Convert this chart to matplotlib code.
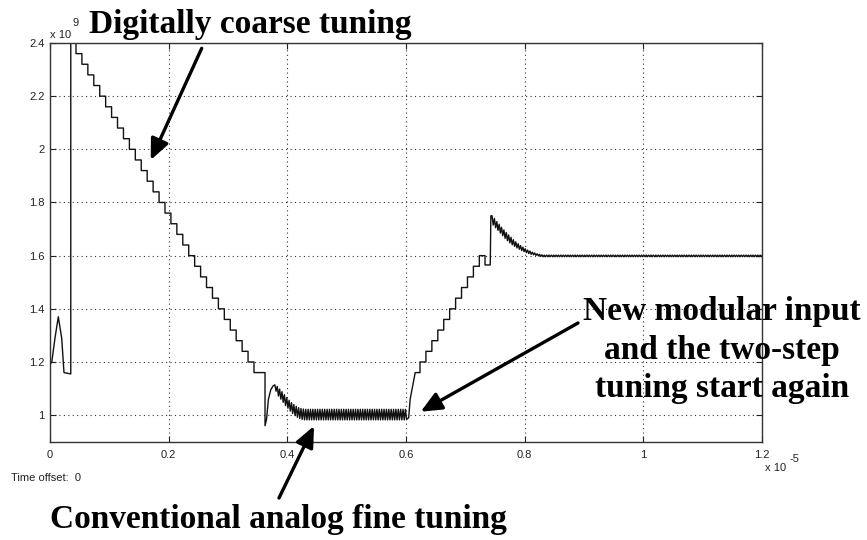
import matplotlib
matplotlib.use("Agg")
import matplotlib.pyplot as plt
from matplotlib.patches import FancyArrowPatch
from matplotlib.ticker import FixedLocator, FixedFormatter

# ---------------- data (time in units of 1e-5 s, value in units of 1e9) -------------
x_ticks = [0, 0.2, 0.4, 0.6, 0.8, 1.0, 1.2]
x_tick_labels = ["0", "0.2", "0.4", "0.6", "0.8", "1", "1.2"]
y_ticks = [1.0, 1.2, 1.4, 1.6, 1.8, 2.0, 2.2, 2.4]
y_tick_labels = ["1", "1.2", "1.4", "1.6", "1.8", "2", "2.2", "2.4"]

# initial transient before coarse tuning starts
init_t = [0.0, 0.003, 0.0084, 0.014, 0.0197, 0.0236, 0.035, 0.035, 0.0438]
init_v = [1.19, 1.20, 1.29, 1.37, 1.29, 1.16, 1.155, 2.50, 2.50]

# digitally coarse tuning: descending staircase (one level per clock)
clock = 0.01
desc_start = 0.0438
desc_end = 0.3624
desc_levels = [2.36, 2.32, 2.28, 2.24, 2.20, 2.16, 2.12, 2.08, 2.04, 2.00,
               1.96, 1.92, 1.88, 1.84, 1.80, 1.76, 1.72, 1.68, 1.64, 1.60,
               1.56, 1.52, 1.48, 1.44, 1.40, 1.36, 1.32, 1.28, 1.24, 1.20, 1.16]

# switch to analog fine tuning: drop and overshoot
trans_t = [0.3624, 0.3650, 0.3680, 0.3720, 0.3760, 0.3790]
trans_v = [0.960, 0.985, 1.058, 1.095, 1.110, 1.114]

# analog fine tuning around 1.0e9 (sampled every half period)
half_period = 0.002
fine1_start = 0.381
fine1_v = ([1.090, 1.108, 1.072, 1.098, 1.060, 1.088, 1.048, 1.077, 1.036, 1.066,
            1.026, 1.056, 1.015, 1.047, 1.006, 1.040, 0.998, 1.033, 0.992, 1.028,
            0.987, 1.025, 0.984, 1.023, 0.982, 1.022]
           + [0.982, 1.022] * 42 + [0.984])

# new modular input: fast rise, then ascending staircase
rise_t = [0.6045, 0.607, 0.6155]
rise_v = [0.990, 1.060, 1.160]
asc_first_edge = 0.6236
asc_end = 0.7332
asc_levels = [1.16, 1.20, 1.24, 1.28, 1.32, 1.36, 1.40, 1.44, 1.48, 1.52, 1.56, 1.60]
jump_t = [0.7332, 0.7420, 0.7430, 0.7450]
jump_v = [1.565, 1.565, 1.750, 1.750]

# second analog fine tuning settling to 1.6e9
fine2_start = 0.747
fine2_v = ([1.715, 1.740, 1.705, 1.728, 1.695, 1.718, 1.685, 1.707, 1.675, 1.697,
            1.665, 1.687, 1.656, 1.678, 1.648, 1.669, 1.641, 1.660, 1.635, 1.652,
            1.629, 1.645, 1.624, 1.638, 1.619, 1.632, 1.615, 1.626, 1.611, 1.621,
            1.608, 1.617, 1.605, 1.613, 1.603, 1.610, 1.601, 1.607, 1.599, 1.605,
            1.597, 1.603]
           + [1.596, 1.602] * 93)

# ---------------- build the trace ----------------
t, v = [], []
t += init_t; v += init_v
edges = [desc_start + k * clock for k in range(len(desc_levels))] + [desc_end]
for k, lvl in enumerate(desc_levels):
    t += [edges[k], edges[k + 1]]
    v += [lvl, lvl]
t += trans_t; v += trans_v
for i, val in enumerate(fine1_v):
    t.append(fine1_start + i * half_period); v.append(val)
t += rise_t; v += rise_v
a_edges = [rise_t[-1]] + [asc_first_edge + k * clock for k in range(len(asc_levels) - 1)] + [asc_end]
for k, lvl in enumerate(asc_levels):
    t += [a_edges[k], a_edges[k + 1]]
    v += [lvl, lvl]
t += jump_t; v += jump_v
for i, val in enumerate(fine2_v):
    t.append(fine2_start + i * half_period); v.append(val)

# ---------------- figure ----------------
W, H = 867, 540
fig = plt.figure(figsize=(W / 100, H / 100), dpi=100)
fig.patch.set_facecolor("white")

def px(x, y):
    return (x / W, 1 - y / H)

ax_l, ax_r, ax_t, ax_b = 50, 762, 43, 441.7
ax = fig.add_axes([ax_l / W, 1 - ax_b / H, (ax_r - ax_l) / W, (ax_b - ax_t) / H])
ax.plot(t, v, color="#111111", lw=1.0)
ax.set_xlim(0, 1.2)
ax.set_ylim(0.9, 2.4)

ax.xaxis.set_major_locator(FixedLocator(x_ticks))
ax.xaxis.set_major_formatter(FixedFormatter(x_tick_labels))
ax.yaxis.set_major_locator(FixedLocator(y_ticks))
ax.yaxis.set_major_formatter(FixedFormatter(y_tick_labels))
ax.tick_params(direction="in", length=4, width=0.8, top=True, right=True,
               labelsize=8, colors="#222222")
ax.tick_params(axis="x", pad=6)
ax.tick_params(axis="y", pad=4)
for lab in ax.get_xticklabels() + ax.get_yticklabels():
    lab.set_family("Liberation Sans")
ax.grid(True, linestyle=(0, (1, 3)), color="#333333", lw=0.8)
for s in ax.spines.values():
    s.set_color("#333333")
    s.set_linewidth(1.0)

small = dict(family="Liberation Sans", fontsize=8, color="#222222")
fig.text(*px(50, 37.5), "x 10", ha="left", va="baseline", **small)
fig.text(*px(72.5, 26), "9", ha="left", va="baseline", **small)
fig.text(*px(765, 471), "x 10", ha="left", va="baseline", **small)
fig.text(*px(789, 462), "-5", ha="left", va="baseline", **small)
fig.text(*px(11, 481), "Time offset:  0", ha="left", va="baseline", **small)

big = dict(family="Liberation Serif", fontsize=24, fontweight="bold", color="black")
fig.text(*px(89, 33.5), "Digitally coarse tuning", ha="left", va="baseline", **big)
fig.text(*px(50.5, 528), "Conventional analog fine tuning", ha="left", va="baseline", **big)
fig.text(*px(721.7, 320), "New modular input", ha="center", va="baseline", **big)
fig.text(*px(721.7, 358.5), "and the two-step", ha="center", va="baseline", **big)
fig.text(*px(721.7, 397), "tuning start again", ha="center", va="baseline", **big)

def arrow(tail, tip):
    a = FancyArrowPatch(px(*tail), px(*tip), transform=fig.transFigure,
                        arrowstyle="-|>,head_length=0.9,head_width=0.4",
                        mutation_scale=14, lw=2.4, color="black",
                        shrinkA=0, shrinkB=0)
    fig.add_artist(a)

arrow((201.7, 48.3), (150.7, 160))
arrow((279, 498), (314, 426))
arrow((578, 323), (420.7, 411.7))

fig.savefig("out.png", dpi=100)
